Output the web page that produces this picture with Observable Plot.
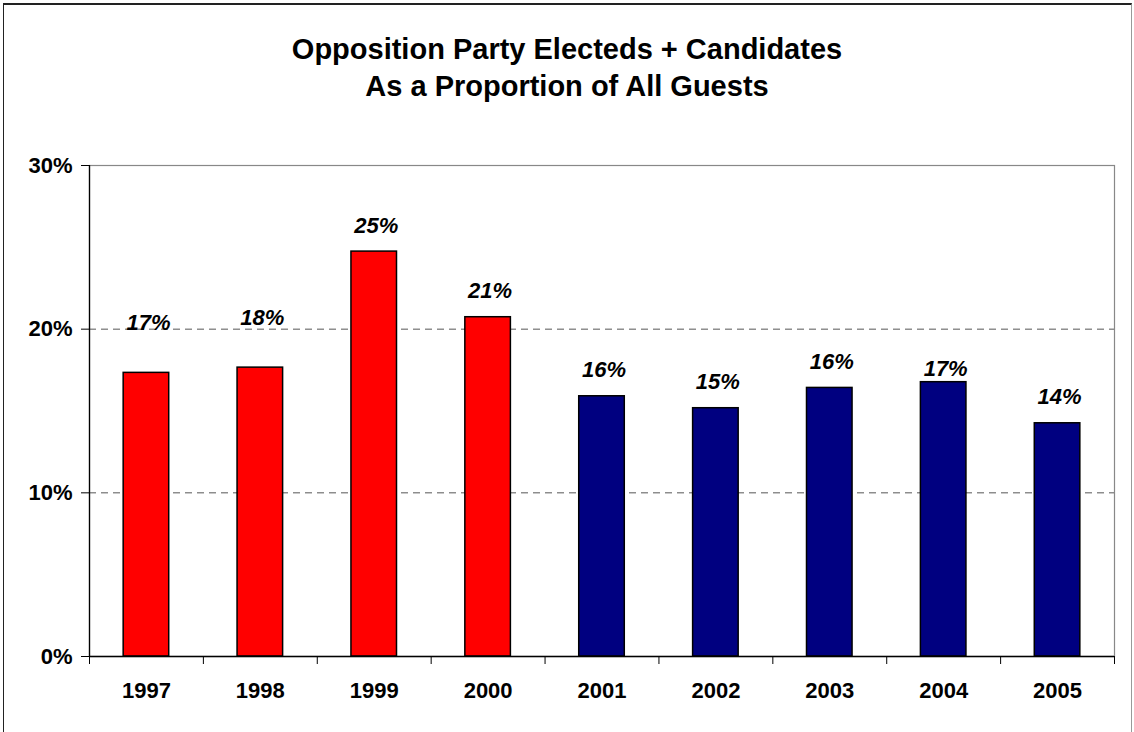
<!DOCTYPE html>
<html>
<head>
<meta charset="utf-8">
<script src="https://cdn.jsdelivr.net/npm/d3@7"></script>
<script src="https://cdn.jsdelivr.net/npm/@observablehq/plot@0.6"></script>
<style>
  html, body { margin: 0; padding: 0; background: #fff; }
  #frame { position: absolute; left: 3px; top: 3px; width: 1129px; height: 740px; z-index: 5; pointer-events: none;
           border-top: 2px solid #222; border-left: 1px solid #222; border-right: 1px solid #999; box-sizing: border-box; }
  #wrap { position: absolute; left: 0; top: 0; width: 1134px; }
  #title { height: 120px; box-sizing: border-box; padding-top: 31px; text-align: center;
           font-family: "Liberation Sans", Arial, sans-serif; font-weight: bold; font-size: 29px;
           line-height: 37px; color: #000; }
  svg { display: block; }
</style>
</head>
<body>
<div id="wrap">
  <div id="title">Opposition Party Electeds + Candidates<br>As a Proportion of All Guests</div>
  <div id="chart"></div>
</div>
<div id="frame"></div>
<script>
const years = [1997, 1998, 1999, 2000, 2001, 2002, 2003, 2004, 2005];
const shares = [0.1733, 0.1765, 0.2474, 0.2073, 0.159, 0.1517, 0.1641, 0.1676, 0.1425];
const groups = ["A", "A", "A", "A", "B", "B", "B", "B", "B"];
const yTicks = [0, 0.1, 0.2, 0.3];
const gridTicks = [0.1, 0.2];

const data = years.map((y, i) => ({year: y, share: shares[i], group: groups[i]}));
const halfBar = 0.2;
const bounds = years.map(y => y - 0.5).concat([years[years.length - 1] + 0.5]);
const xDomain = [bounds[0], bounds[bounds.length - 1]];
const fmt = d3.format(".0%");
const font = "'Liberation Sans', Arial, sans-serif";

const highLabels = [1997, 1998];
const lowLabels = [2004];

const chart = Plot.plot({
  width: 1134,
  height: 612,
  marginLeft: 89,
  marginRight: 20,
  marginTop: 45,
  marginBottom: 76,
  style: {fontFamily: font, fontSize: "22px", fontWeight: "bold", color: "#000", background: "#fff"},
  x: {domain: xDomain, axis: null},
  y: {domain: [0, 0.3], axis: null},
  color: {domain: ["A", "B"], range: ["#FF0000", "#000080"]},
  marks: [
    Plot.ruleY(gridTicks, {stroke: "#555", strokeWidth: 1, strokeDasharray: "7,5"}),
    Plot.frame({stroke: "#888", strokeWidth: 1.2}),
    Plot.rectY(data, {
      x1: d => d.year - halfBar, x2: d => d.year + halfBar, y: "share",
      fill: "group", stroke: "#000", strokeWidth: 1.5
    }),
    Plot.ruleY([0], {stroke: "#000", strokeWidth: 1.3}),
    Plot.ruleX([xDomain[0]], {stroke: "#000", strokeWidth: 1.3}),
    Plot.axisY({ticks: yTicks, tickFormat: fmt, tickSize: 8, tickPadding: 9, stroke: "#000",
                fontSize: 22, fontWeight: "bold", label: null}),
    Plot.axisX({ticks: bounds, tickFormat: () => "", tickSize: 8, stroke: "#000", label: null}),
    Plot.axisX({ticks: years, tickFormat: d => String(d), tickSize: 0, tickPadding: 26,
                fontSize: 22, fontWeight: "bold", label: null}),
    Plot.text(data.filter(d => !highLabels.includes(d.year) && !lowLabels.includes(d.year)), {
      x: "year", y: "share", text: d => fmt(d.share), dy: -26, dx: 2,
      fontSize: 22, fontWeight: "bold", fontStyle: "italic", fill: "#000"
    }),
    Plot.text(data.filter(d => highLabels.includes(d.year)), {
      x: "year", y: "share", text: d => fmt(d.share), dy: -50, dx: 2,
      fontSize: 22, fontWeight: "bold", fontStyle: "italic", fill: "#000"
    }),
    Plot.text(data.filter(d => lowLabels.includes(d.year)), {
      x: "year", y: "share", text: d => fmt(d.share), dy: -13, dx: 2,
      fontSize: 22, fontWeight: "bold", fontStyle: "italic", fill: "#000"
    })
  ]
});
document.getElementById("chart").appendChild(chart);
</script>
</body>
</html>
